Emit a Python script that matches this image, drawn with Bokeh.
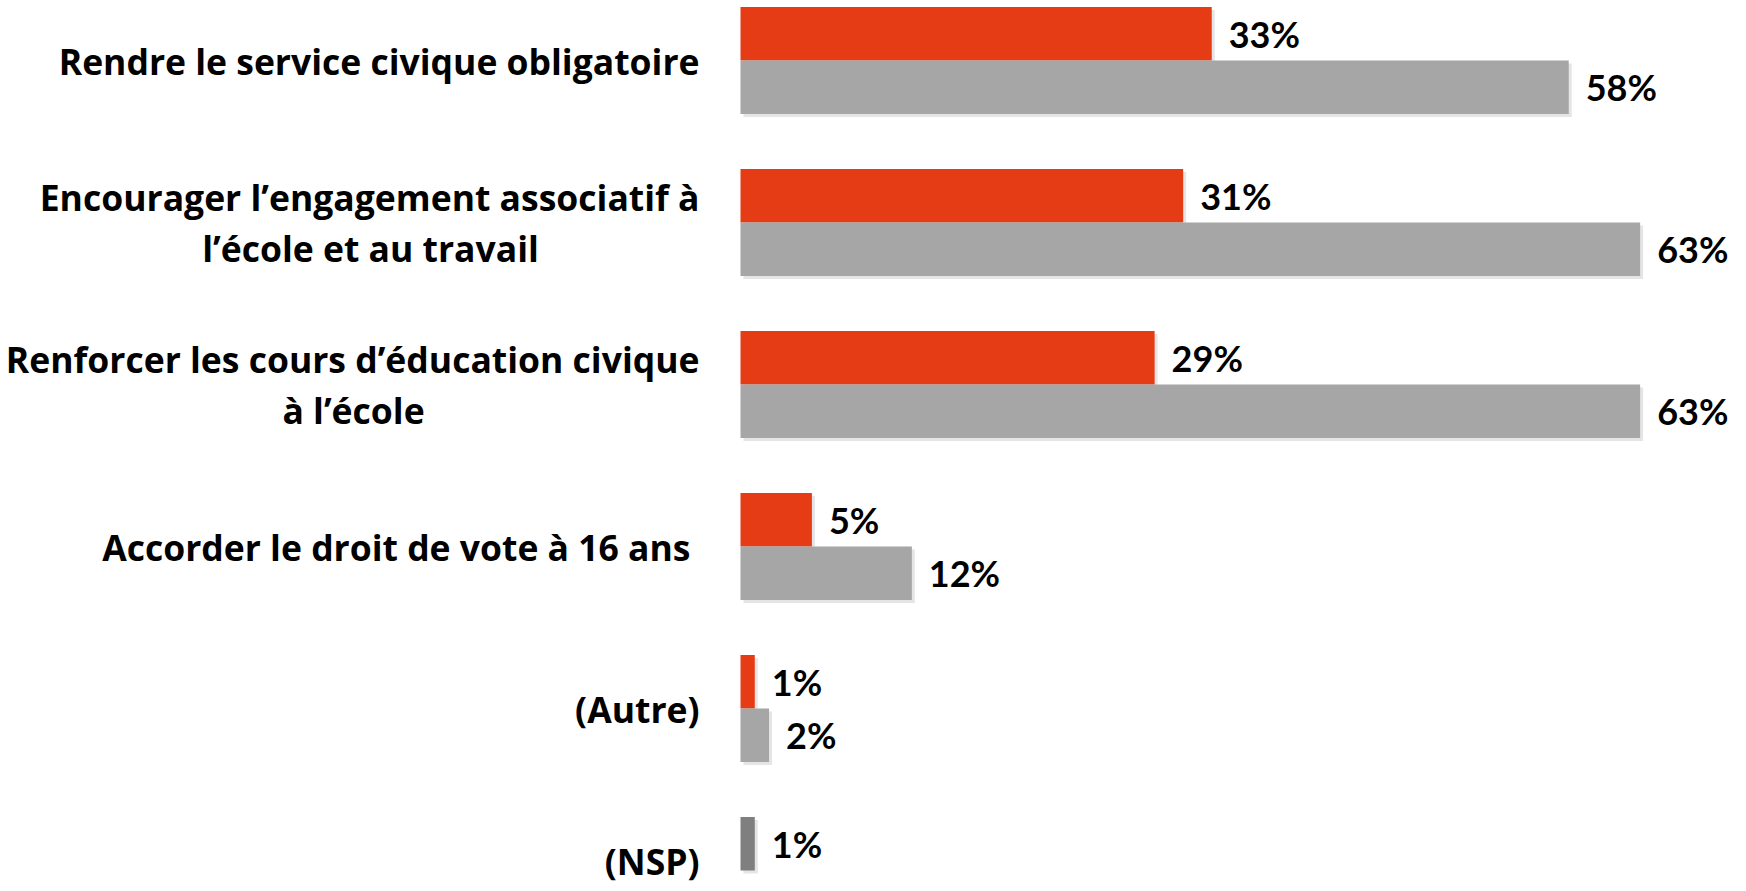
from bokeh.plotting import figure
from bokeh.models import Range1d, ColumnDataSource
from bokeh.transform import dodge
from bokeh.core.properties import value
from bokeh.embed import file_html
from bokeh.resources import INLINE

# ---- data ----
categories = [
    "Rendre le service civique obligatoire",
    "Encourager l’engagement associatif à\nl’école et au travail",
    "Renforcer les cours d’éducation civique\nà l’école",
    "Accorder le droit de vote à 16 ans",
    "(Autre)",
    "(NSP)",
]
serie_rouge = [33, 31, 29, 5, 1]
serie_grise = [58, 63, 63, 12, 2]
serie_nsp = [1]

# ---- styles / layout ----
RED = "#E53C16"
GREY = "#A6A6A6"
DARK = "#7F7F7F"
LABEL_FONT = "Open Sans"
VALUE_FONT = "Lato"
W, H = 1738, 883
PX_PER_PCT = 14.28
ZERO_X = 740          # px from figure left where 0% sits
TOP_CENTER = 60       # px from figure top to first group centre
STEP = 162            # px between groups
BAR_H = 53.5 / STEP   # in category units
LABEL_SIZE = "35.5px"
VALUE_SIZE = "36px"
SHADOW_PX = 3

x0 = -ZERO_X / PX_PER_PCT
x1 = (W - ZERO_X) / PX_PER_PCT
y_top = -TOP_CENTER / STEP
y_bot = (H - TOP_CENTER) / STEP

p = figure(width=W, height=H, output_backend="svg", toolbar_location=None,
           x_range=Range1d(x0, x1), y_range=Range1d(y_bot, y_top),
           min_border=0)
p.axis.visible = False
p.grid.visible = False
p.outline_line_color = None
p.background_fill_color = "white"
p.border_fill_color = "white"

sx = SHADOW_PX / PX_PER_PCT
sy = SHADOW_PX / STEP


def make_src(ys, vals):
    return ColumnDataSource(dict(
        y=ys, v=vals, t=[f"{v}%" for v in vals],
        sl=[sx] * len(vals), sr=[v + sx for v in vals]))


idx = list(range(len(serie_rouge)))
src_r = make_src(idx, serie_rouge)
src_g = make_src(idx, serie_grise)
src_n = make_src([len(categories) - 1], serie_nsp)

off = BAR_H / 2
series = [(src_r, RED, -off), (src_g, GREY, off), (src_n, DARK, -off)]
# soft drop shadows first
for src, col, d in series:
    p.hbar(y=dodge("y", d + sy, range=p.y_range), left="sl", right="sr", height=BAR_H,
           source=src, fill_color="black", fill_alpha=0.10, line_color=None)
for src, col, d in series:
    p.hbar(y=dodge("y", d, range=p.y_range), left=0, right="v", height=BAR_H,
           source=src, fill_color=col, line_color=None)
    p.text(x="v", y=dodge("y", d, range=p.y_range), text="t", source=src,
           x_offset=17, text_align="left", text_baseline="middle",
           text_font=value(VALUE_FONT), text_font_style="bold",
           text_font_size=VALUE_SIZE, text_color="black")

# category labels (multi-line ones: second line centred under the first)
LINE_GAP = 51
LINE1_W = {1: 658, 2: 692}   # approx px width of first line, for centring line 2
RIGHT_OFF = {3: -50}
NUDGE_Y = {5: -10}
lx, ly, lt, lxo, lyo, la = [], [], [], [], [], []
for i, c in enumerate(categories):
    lines = c.split("\n")
    r_off = RIGHT_OFF.get(i, -41)
    ny = NUDGE_Y.get(i, 0)
    if len(lines) == 1:
        lx.append(0); ly.append(i); lt.append(lines[0]); lxo.append(r_off); lyo.append(ny); la.append("right")
    else:
        lx.append(0); ly.append(i); lt.append(lines[0]); lxo.append(r_off); lyo.append(-LINE_GAP / 2); la.append("right")
        lx.append(0); ly.append(i); lt.append(lines[1]); lxo.append(r_off - LINE1_W[i] / 2); lyo.append(LINE_GAP / 2); la.append("center")
src_l = ColumnDataSource(dict(x=lx, y=ly, t=lt, xo=lxo, yo=lyo, a=la))
p.text(x="x", y="y", text="t", x_offset="xo", y_offset="yo", text_align="a",
       text_baseline="middle", source=src_l, text_font=value(LABEL_FONT),
       text_font_style="bold", text_font_size=LABEL_SIZE, text_color="black")

open("out.html", "w").write(file_html(p, INLINE))
